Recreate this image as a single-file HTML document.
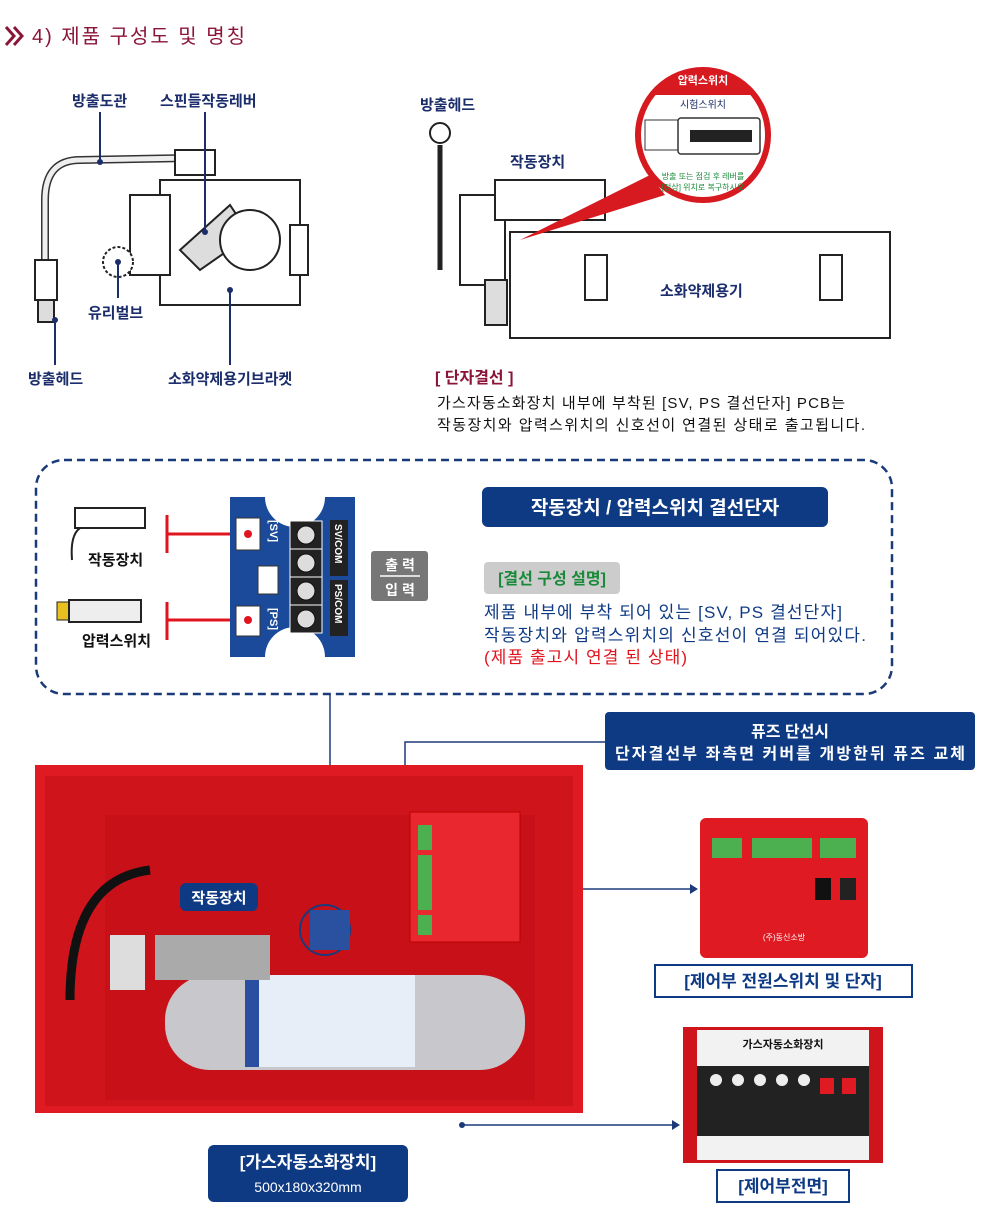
<!DOCTYPE html>
<html><head><meta charset="utf-8"><style>
body{margin:0;background:#fff;}
svg{display:block;font-family:"Liberation Sans","Noto Sans CJK KR",sans-serif;}
</style></head><body>
<svg width="984" height="1223" viewBox="0 0 984 1223" xmlns="http://www.w3.org/2000/svg">
<path d="M6 27 L14 36 L6 45 M14 27 L22 36 L14 45" stroke="#8b1538" stroke-width="3" fill="none"/>
<text x="32" y="43" font-size="20" fill="#8b1538" textLength="213">4) 제품 구성도 및 명칭</text>

<g fill="none" stroke="#222" stroke-width="2">
<path d="M45 290 L45 200 Q45 160 80 160 L190 158" stroke-width="8" stroke="#333"/>
<path d="M45 290 L45 200 Q45 160 80 160 L190 158" stroke-width="5" stroke="#eee"/>
<rect x="160" y="180" width="140" height="125" fill="#fff"/>
<rect x="130" y="195" width="40" height="80" fill="#fff"/>
<path d="M180 250 L230 205 L250 235 L200 270 Z" fill="#ddd"/>
<circle cx="250" cy="240" r="30" fill="#fff"/>
<rect x="175" y="150" width="40" height="25" fill="#fff"/>
<rect x="35" y="260" width="22" height="40" fill="#fff"/>
<rect x="38" y="300" width="16" height="22" fill="#ddd"/>
<circle cx="118" cy="262" r="15" fill="#fff" stroke-dasharray="3 2"/>
<rect x="290" y="225" width="18" height="50" fill="#fff"/>
</g>
<g font-size="15" font-weight="bold" fill="#1b2d6b">
<text x="72" y="106">방출도관</text>
<text x="160" y="106">스핀들작동레버</text>
<text x="88" y="318">유리벌브</text>
<text x="28" y="384">방출헤드</text>
<text x="168" y="384">소화약제용기브라켓</text>
</g>
<g stroke="#1b2d6b" stroke-width="2">
<line x1="100" y1="112" x2="100" y2="162"/><line x1="205" y1="112" x2="205" y2="230"/>
<line x1="118" y1="262" x2="118" y2="298"/><line x1="55" y1="320" x2="55" y2="365"/>
<line x1="230" y1="290" x2="230" y2="365"/>
</g>
<g fill="#1b2d6b"><circle cx="100" cy="162" r="3"/><circle cx="205" cy="232" r="3"/><circle cx="118" cy="262" r="3"/><circle cx="55" cy="320" r="3"/><circle cx="230" cy="290" r="3"/></g>

<g fill="none" stroke="#222" stroke-width="2">
<rect x="510" y="232" width="380" height="106" fill="#fff"/>
<circle cx="440" cy="133" r="10" fill="#fff"/>
<path d="M440 145 L440 270" stroke-width="5"/>
<rect x="460" y="195" width="45" height="90" fill="#fff"/>
<rect x="495" y="180" width="110" height="40" fill="#fff"/>
<rect x="485" y="280" width="22" height="45" fill="#ddd"/>
<rect x="585" y="255" width="22" height="45" fill="#fff"/><rect x="820" y="255" width="22" height="45" fill="#fff"/>
</g>
<g font-size="15" font-weight="bold" fill="#1b2d6b">
<text x="420" y="110">방출헤드</text>
<text x="510" y="167">작동장치</text>
<text x="660" y="296">소화약제용기</text>
</g>
<path d="M520 240 L650 175 L665 195 Z" fill="#d71920"/>
<circle cx="703" cy="135" r="65" fill="#fff" stroke="#d71920" stroke-width="6"/>
<path d="M652 95 A65 65 0 0 1 754 95 Z" fill="#d71920"/>
<text x="703" y="84" font-size="11" font-weight="bold" fill="#fff" text-anchor="middle">압력스위치</text>
<text x="703" y="108" font-size="10" fill="#1b2d6b" text-anchor="middle">시험스위치</text>
<rect x="645" y="120" width="36" height="30" fill="#fff" stroke="#333"/>
<rect x="678" y="118" width="82" height="36" rx="3" fill="#fff" stroke="#333" stroke-width="1.5"/>
<rect x="690" y="130" width="62" height="12" fill="#222"/>
<text x="703" y="179" font-size="8" fill="#1a8a3a" text-anchor="middle">방출 또는 점검 후 레버를</text>
<text x="703" y="190" font-size="8" fill="#1a8a3a" text-anchor="middle">[정상] 위치로 복구하시오</text>

<text x="435" y="383" font-size="16" font-weight="bold" fill="#8b1538">[ 단자결선 ]</text>
<text x="437" y="408" font-size="15" fill="#111" textLength="408">가스자동소화장치 내부에 부착된 [SV, PS 결선단자] PCB는</text>
<text x="437" y="430" font-size="15" fill="#111" textLength="428">작동장치와 압력스위치의 신호선이 연결된 상태로 출고됩니다.</text>

<rect x="36" y="460" width="856" height="234" rx="28" fill="none" stroke="#1b3a7a" stroke-width="2.5" stroke-dasharray="8 5"/>
<rect x="75" y="508" width="70" height="20" fill="#fff" stroke="#222" stroke-width="2"/>
<path d="M80 528 Q70 535 72 560" stroke="#222" stroke-width="2" fill="none"/>
<text x="88" y="565" font-size="15" font-weight="bold" fill="#111">작동장치</text>
<rect x="57" y="602" width="12" height="18" fill="#e8c020" stroke="#222"/>
<rect x="69" y="600" width="72" height="22" fill="#eee" stroke="#222" stroke-width="2"/>
<text x="82" y="646" font-size="15" font-weight="bold" fill="#111">압력스위치</text>
<g stroke="#e0141e" stroke-width="3"><line x1="167" y1="515" x2="167" y2="553"/><line x1="167" y1="534" x2="248" y2="534"/><line x1="167" y1="602" x2="167" y2="640"/><line x1="167" y1="620" x2="248" y2="620"/></g>
<path d="M230 497 H265 A15 15 0 0 0 325 497 H355 V657 H325 A15 15 0 0 0 265 657 H230 Z" fill="#1b4a9a"/>
<g fill="#fff" stroke="#333"><rect x="236" y="518" width="24" height="32"/><rect x="258" y="566" width="20" height="28"/><rect x="236" y="606" width="24" height="30"/></g>
<circle cx="248" cy="534" r="4" fill="#e0141e"/><circle cx="248" cy="620" r="4" fill="#e0141e"/>
<text transform="translate(270,520) rotate(90)" font-size="11" font-weight="bold" fill="#fff">[SV]</text>
<text transform="translate(270,608) rotate(90)" font-size="11" font-weight="bold" fill="#fff">[PS]</text>
<g fill="#222" stroke="#fff" stroke-width="1"><rect x="290" y="521" width="32" height="28"/><rect x="290" y="549" width="32" height="28"/><rect x="290" y="577" width="32" height="28"/><rect x="290" y="605" width="32" height="28"/></g>
<g fill="#ddd" stroke="#111"><circle cx="306" cy="535" r="9"/><circle cx="306" cy="563" r="9"/><circle cx="306" cy="591" r="9"/><circle cx="306" cy="619" r="9"/></g>
<rect x="330" y="520" width="18" height="56" fill="#222"/><rect x="330" y="580" width="18" height="56" fill="#222"/>
<text transform="translate(335,524) rotate(90)" font-size="10" font-weight="bold" fill="#fff">SV/COM</text>
<text transform="translate(335,584) rotate(90)" font-size="10" font-weight="bold" fill="#fff">PS/COM</text>
<rect x="371" y="551" width="57" height="50" rx="3" fill="#777"/>
<line x1="380" y1="576" x2="420" y2="576" stroke="#fff" stroke-width="1.5"/>
<text x="400" y="570" font-size="14" font-weight="bold" fill="#fff" text-anchor="middle">출 력</text>
<text x="400" y="595" font-size="14" font-weight="bold" fill="#fff" text-anchor="middle">입 력</text>
<rect x="482" y="487" width="346" height="40" rx="6" fill="#0e3a84"/>
<text x="655" y="514" font-size="19" font-weight="bold" fill="#fff" text-anchor="middle">작동장치 / 압력스위치 결선단자</text>
<rect x="484" y="562" width="136" height="32" rx="4" fill="#ccc"/>
<text x="552" y="584" font-size="16" font-weight="bold" fill="#1a8a3a" text-anchor="middle">[결선 구성 설명]</text>
<text x="484" y="618" font-size="17" fill="#0e3a84" textLength="358">제품 내부에 부착 되어 있는 [SV, PS 결선단자]</text>
<text x="484" y="641" font-size="17" fill="#0e3a84" textLength="382">작동장치와 압력스위치의 신호선이 연결 되어있다.</text>
<text x="484" y="663" font-size="17" fill="#e0141e" textLength="203">(제품 출고시 연결 된 상태)</text>

<g stroke="#1b3a7a" stroke-width="1.5" fill="none">
<line x1="330" y1="694" x2="330" y2="905"/>
<path d="M605 742 H405 V882"/>
<line x1="512" y1="889" x2="690" y2="889"/>
<line x1="462" y1="1125" x2="672" y2="1125"/>
</g>
<path d="M690 884 L698 889 L690 894 Z" fill="#1b3a7a"/>
<path d="M672 1120 L680 1125 L672 1130 Z" fill="#1b3a7a"/>
<circle cx="512" cy="889" r="3" fill="#1b3a7a"/><circle cx="462" cy="1125" r="3" fill="#1b3a7a"/><circle cx="405" cy="882" r="3" fill="#1b3a7a"/>

<rect x="605" y="712" width="370" height="58" rx="4" fill="#0e3a84"/>
<text x="790" y="737" font-size="16" font-weight="bold" fill="#fff" text-anchor="middle">퓨즈 단선시</text>
<text x="790" y="759" font-size="16" font-weight="bold" fill="#fff" text-anchor="middle" textLength="350">단자결선부 좌측면 커버를 개방한뒤 퓨즈 교체</text>

<rect x="35" y="765" width="548" height="348" fill="#e01a22"/>
<rect x="45" y="776" width="528" height="330" fill="#d0141c"/>
<rect x="105" y="815" width="430" height="285" fill="#c81018"/>
<rect x="410" y="812" width="110" height="130" fill="#e8282e" stroke="#b00" />
<g fill="#4caf50"><rect x="418" y="825" width="14" height="25"/><rect x="418" y="855" width="14" height="55"/><rect x="418" y="915" width="14" height="20"/></g>
<rect x="165" y="975" width="360" height="95" rx="45" fill="#c8c8cc"/>
<rect x="245" y="975" width="170" height="92" fill="#e8eef8"/>
<rect x="245" y="975" width="14" height="92" fill="#2a4ea0"/>
<rect x="110" y="935" width="35" height="55" fill="#ddd"/>
<rect x="155" y="935" width="115" height="45" fill="#aaa"/>
<path d="M150 870 Q70 880 70 1000" stroke="#111" stroke-width="9" fill="none"/>
<rect x="300" y="905" width="50" height="50" fill="none" stroke="#1b3a7a" stroke-width="2" rx="25"/>
<rect x="310" y="910" width="40" height="40" fill="#2a50a0"/>
<rect x="180" y="883" width="78" height="28" rx="6" fill="#0e3a84"/>
<text x="219" y="903" font-size="15" font-weight="bold" fill="#fff" text-anchor="middle">작동장치</text>

<rect x="700" y="818" width="168" height="140" rx="6" fill="#e01a22"/>
<g fill="#4caf50"><rect x="712" y="838" width="30" height="20"/><rect x="752" y="838" width="60" height="20"/><rect x="820" y="838" width="36" height="20"/></g>
<rect x="815" y="878" width="16" height="22" fill="#111"/><rect x="840" y="878" width="16" height="22" fill="#222"/>
<text x="784" y="940" font-size="8" fill="#fff" text-anchor="middle">(주)동신소방</text>
<rect x="655" y="965" width="257" height="32" fill="#fff" stroke="#0e3a84" stroke-width="2"/>
<text x="783" y="987" font-size="17" font-weight="bold" fill="#0e3a84" text-anchor="middle">[제어부 전원스위치 및 단자]</text>

<rect x="683" y="1027" width="200" height="136" fill="#d0141c"/>
<rect x="697" y="1030" width="172" height="130" fill="#f2f2f2"/>
<text x="783" y="1048" font-size="11" font-weight="bold" fill="#111" text-anchor="middle">가스자동소화장치</text>
<rect x="697" y="1066" width="172" height="70" fill="#222"/>
<g fill="#eee"><circle cx="716" cy="1080" r="6"/><circle cx="738" cy="1080" r="6"/><circle cx="760" cy="1080" r="6"/><circle cx="782" cy="1080" r="6"/><circle cx="804" cy="1080" r="6"/></g>
<rect x="820" y="1078" width="14" height="16" fill="#e01a22"/><rect x="842" y="1078" width="14" height="16" fill="#e01a22"/>
<rect x="717" y="1170" width="132" height="32" fill="#fff" stroke="#0e3a84" stroke-width="2"/>
<text x="783" y="1192" font-size="17" font-weight="bold" fill="#0e3a84" text-anchor="middle">[제어부전면]</text>

<rect x="208" y="1145" width="200" height="57" rx="6" fill="#0e3a84"/>
<text x="308" y="1168" font-size="17" font-weight="bold" fill="#fff" text-anchor="middle">[가스자동소화장치]</text>
<text x="308" y="1192" font-size="14" fill="#fff" text-anchor="middle">500x180x320mm</text>
</svg>
</body></html>
